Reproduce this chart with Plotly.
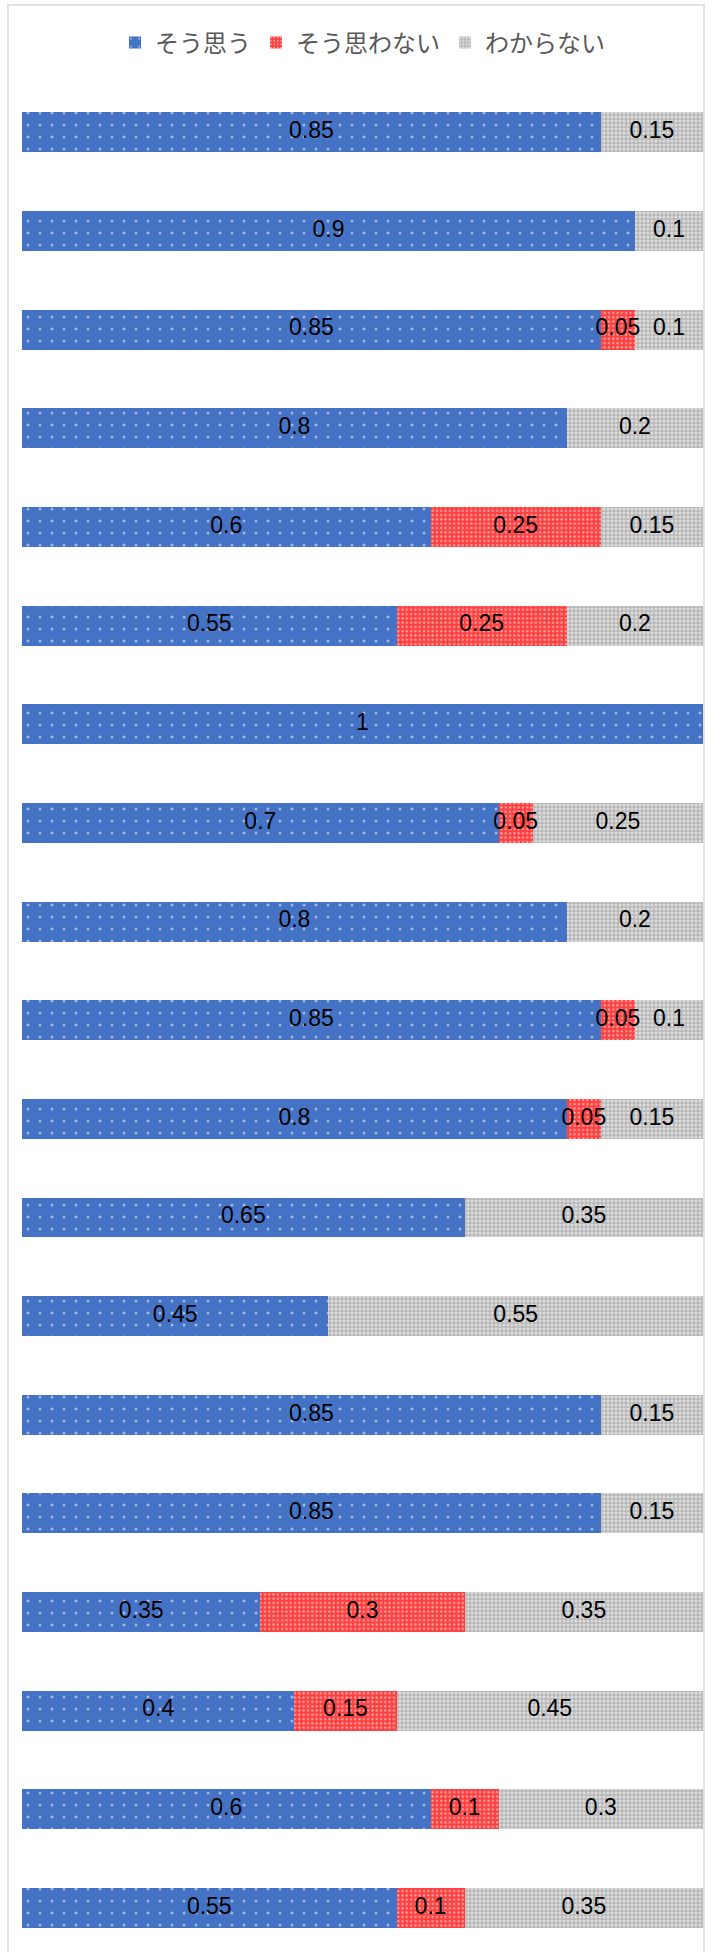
import plotly.graph_objects as go

rows = list(range(19))
agree = [0.85, 0.9, 0.85, 0.8, 0.6, 0.55, 1, 0.7, 0.8, 0.85, 0.8, 0.65, 0.45, 0.85, 0.85, 0.35, 0.4, 0.6, 0.55]
disagree = [0, 0, 0.05, 0, 0.25, 0.25, 0, 0.05, 0, 0.05, 0.05, 0, 0, 0, 0, 0.3, 0.15, 0.1, 0.1]
unknown = [0.15, 0.1, 0.1, 0.2, 0.15, 0.2, 0, 0.25, 0.2, 0.1, 0.15, 0.35, 0.55, 0.15, 0.15, 0.35, 0.45, 0.3, 0.35]
names = ["そう思う", "そう思わない", "わからない"]

W, H = 712, 1952
L, R, T, B = 22, 9, 83, 0

series = [
    (agree, names[0], dict(shape=".", bgcolor="#4472C4", fgcolor="#FFFFFF", size=12, solidity=0.05)),
    (disagree, names[1], dict(shape=".", bgcolor="#FF4040", fgcolor="#FFFFFF", size=4.3, solidity=0.25)),
    (unknown, names[2], dict(shape=".", bgcolor="#B8B8B8", fgcolor="#FFFFFF", size=4, solidity=0.45)),
]

fig = go.Figure()
for vals, nm, pat in series:
    fig.add_trace(go.Bar(
        y=rows, x=vals, name=nm, orientation="h",
        marker=dict(color=pat["bgcolor"], line=dict(width=0), pattern=pat),
        hoverinfo="skip",
    ))

# labels drawn on top of all bars, at the centre of each segment
lx, ly, lt = [], [], []
for i in rows:
    base = 0.0
    for vals, _, _ in series:
        v = vals[i]
        if v > 0:
            lx.append(base + v / 2)
            ly.append(i)
            lt.append("%g" % v)
        base += v
fig.add_trace(go.Scatter(
    x=lx, y=ly, text=lt, mode="text", showlegend=False, cliponaxis=False,
    textposition="middle center", hoverinfo="skip",
    textfont=dict(family="Liberation Sans, Arial, sans-serif", size=23, color="#000000"),
))

plot_h = H - T - B
spacing = 98.7
bottom_extra = (1952 - 1908) / spacing

fig.update_layout(
    width=W, height=H,
    margin=dict(l=L, r=R, t=T, b=B, pad=0),
    barmode="stack", bargap=0.595,
    paper_bgcolor="#FFFFFF", plot_bgcolor="#FFFFFF",
    showlegend=True,
    legend=dict(orientation="h", x=0.5, xanchor="center", y=1 + (T - 43) / plot_h, yanchor="middle",
                font=dict(family="Noto Sans CJK JP", size=24, color="#595959"),
                itemwidth=30, traceorder="normal"),
    xaxis=dict(range=[0, 1], visible=False, fixedrange=True),
    yaxis=dict(range=[18 + bottom_extra, -0.5], visible=False, fixedrange=True),
)

fig.add_shape(type="rect", xref="paper", yref="paper",
              x0=(8 - L) / (W - L - R), x1=(704 - L) / (W - L - R),
              y0=-0.05, y1=1 + (T - 5) / plot_h,
              line=dict(color="#D9D9D9", width=1.5), fillcolor="rgba(0,0,0,0)", layer="below")

fig.write_html("out.html", config={"displayModeBar": False},
               post_script="document.body.style.margin='0';document.body.style.overflow='hidden';")
